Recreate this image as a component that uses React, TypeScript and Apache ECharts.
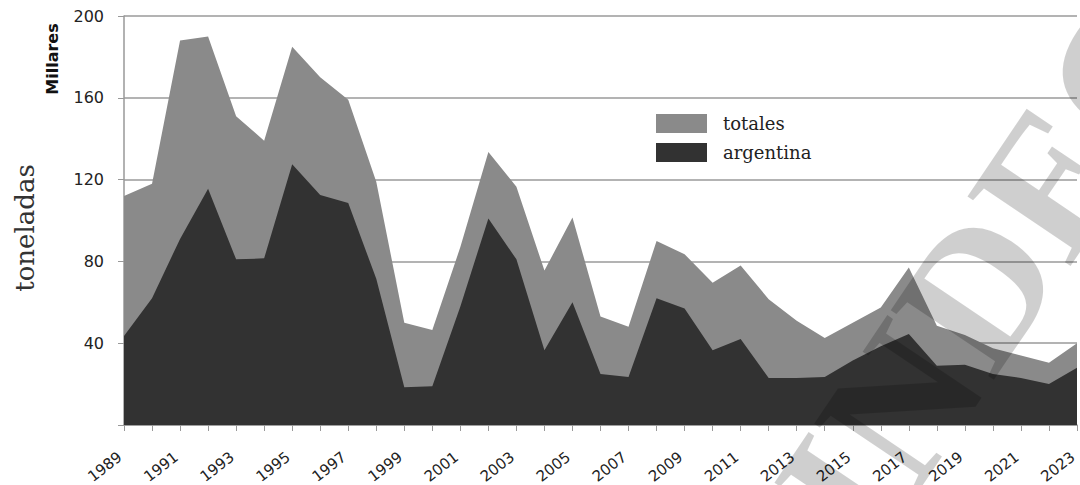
import React, { useEffect, useRef } from "react";
import * as echarts from "echarts";

const years: string[] = [];
for (let y = 1989; y <= 2023; y++) years.push(String(y));

const totales = [112, 118, 188, 190, 151, 139, 185, 170, 159, 119, 50, 46.5, 87, 133.5, 116.5, 75.5, 101.5, 53, 48, 90, 83.5, 69.5, 78, 61.5, 51, 42.5, 50, 57.5, 77, 48.5, 44, 37.5, 34, 30.5, 40];
const argentina = [43.5, 62, 91, 115.5, 81, 81.5, 127.5, 112.5, 108.5, 71.5, 18.5, 19, 58, 101, 81, 36.5, 60, 25, 23.5, 62, 57, 36.5, 42, 23, 23, 23.5, 31.5, 38.5, 44.5, 29, 29.5, 25, 23, 20, 28];

const seriesNames = ["totales", "argentina"];
const yTitle = "toneladas";
const yUnit = "Millares";
const watermark = "INDEC";

export default function App() {
  const ref = useRef<HTMLDivElement>(null);
  useEffect(() => {
    if (!ref.current) return;
    const chart = echarts.init(ref.current, undefined, { renderer: "svg" });
    chart.setOption({
      animation: false,
      backgroundColor: "#ffffff",
      grid: { left: 124, right: 3, top: 16, bottom: 60, containLabel: false, outerBoundsMode: "none" },
      legend: {
        data: seriesNames,
        orient: "vertical",
        left: 651,
        top: 109,
        icon: "rect",
        itemWidth: 51,
        itemHeight: 19,
        itemGap: 10,
        textStyle: { fontFamily: "DejaVu Serif", fontSize: 18, color: "#222", padding: [0, 0, 0, 11] },
      },
      xAxis: {
        type: "category",
        data: years,
        boundaryGap: false,
        axisLine: { lineStyle: { color: "#999", width: 1.5 } },
        axisTick: { show: true, interval: 0, length: 6, lineStyle: { color: "#999" } },
        axisLabel: {
          interval: 1,
          rotate: 38,
          margin: 27,
          padding: [0, 5, 0, 0],
          fontFamily: "DejaVu Sans",
          fontSize: 15,
          color: "#222",
        },
        splitLine: { show: false },
      },
      yAxis: {
        type: "value",
        min: 0,
        max: 200,
        interval: 40,
        axisLine: { show: true, lineStyle: { color: "#999", width: 1.5 } },
        axisTick: { show: true, length: 6, lineStyle: { color: "#999" } },
        axisLabel: {
          margin: 20,
          fontFamily: "DejaVu Sans",
          fontSize: 16,
          color: "#222",
          formatter: (v: number) => (v === 0 ? "" : String(v)),
        },
        splitLine: { show: true, lineStyle: { color: "#9a9a9a", width: 1.5 } },
      },
      series: [
        {
          name: seriesNames[0],
          type: "line",
          data: totales,
          symbol: "none",
          lineStyle: { width: 0 },
          itemStyle: { color: "#8a8a8a" },
          areaStyle: { color: "#8a8a8a", opacity: 1 },
        },
        {
          name: seriesNames[1],
          type: "line",
          data: argentina,
          symbol: "none",
          lineStyle: { width: 0 },
          itemStyle: { color: "#323232" },
          areaStyle: { color: "#323232", opacity: 1 },
        },
      ],
      graphic: [
        {
          type: "text",
          x: 52,
          y: 59,
          rotation: Math.PI / 2,
          style: {
            text: yUnit,
            fontFamily: "DejaVu Sans",
            fontWeight: "bold",
            fontSize: 16,
            fill: "#111",
            align: "center",
            verticalAlign: "middle",
          },
        },
        {
          type: "text",
          x: 25,
          y: 228,
          rotation: Math.PI / 2,
          style: {
            text: yTitle,
            fontFamily: "DejaVu Serif",
            fontSize: 26,
            fill: "#333",
            align: "center",
            verticalAlign: "middle",
          },
        },
        {
          type: "text",
          x: 992,
          y: 268,
          z: 100,
          rotation: (56 * Math.PI) / 180,
          style: {
            text: watermark,
            fontFamily: "Liberation Serif",
            fontWeight: "bold",
            fontSize: 190,
            fill: "rgba(0,0,0,0.19)",
            align: "center",
            verticalAlign: "middle",
          },
        },
      ],
    });
    return () => chart.dispose();
  }, []);
  return (
    <div
      ref={ref}
      style={{ position: "fixed", left: 0, top: 0, width: 1080, height: 485 }}
    />
  );
}
